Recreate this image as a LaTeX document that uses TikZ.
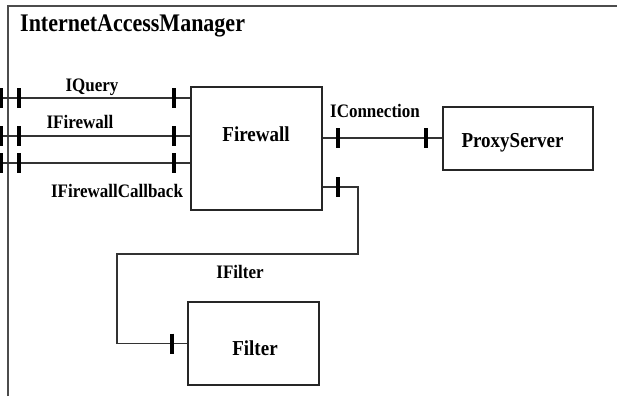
\documentclass[tikz,border=0pt]{standalone}
\usepackage{fontspec}
\setmainfont{Liberation Serif}[BoldFont={Liberation Serif Bold}]
\newcommand{\vst}[1]{\scalebox{1}[1.12]{#1}}
\begin{document}
\begin{tikzpicture}[x=1pt,y=-1pt,
  box/.style={draw=black!85,line width=1.8pt,minimum width=#1,inner sep=0pt},
  conn/.style={draw=black!80,line width=1.4pt},
  tickmark/.style={line width=3.2pt,black},
  lbl/.style={font=\fontsize{17}{17}\selectfont\bfseries,anchor=base,inner sep=0pt},
  boxname/.style={font=\fontsize{19}{19}\selectfont\bfseries,anchor=base,inner sep=0pt},
  outerframe/.style={draw=black!70,line width=1.6pt}]
\useasboundingbox (0,0) rectangle (617,396);
\fill[white] (0,0) rectangle (617,396);
% outer component frame
\coordinate (fbl) at (8,396);
\coordinate (ftl) at (8,6);
\coordinate (ftr) at (617,6);
\draw[outerframe] (fbl) -- (ftl) -- (ftr);
\node[font=\fontsize{22}{22}\selectfont\bfseries,anchor=base west,inner sep=0pt] (title) at (20,32) {\scalebox{1}[1.15]{InternetAccessManager}};
% boxes
\node[box=131pt,minimum height=123pt] (firewall) at (256.5,148.5) {};
\node[box=150pt,minimum height=63pt] (proxy) at (518,138.5) {};
\node[box=131pt,minimum height=83pt] (filter) at (253.5,343.5) {};
\node[boxname] (fwname) at (256,141) {\vst{Firewall}};
\node[boxname] (pxname) at (512.5,147) {\vst{ProxyServer}};
\node[boxname] (ftname) at (255,355) {\vst{Filter}};
% left interfaces
\coordinate (q0) at (0,98);
\coordinate (w0) at (0,136);
\coordinate (c0) at (0,163);
\draw[conn] (q0) -- (q0 -| firewall.west);
\draw[conn] (w0) -- (w0 -| firewall.west);
\draw[conn] (c0) -- (c0 -| firewall.west);
\foreach \yy in {98,136,163}{
  \foreach \xx in {1.5,19,174}{
    \draw[tickmark] (\xx,\yy-10) -- (\xx,\yy+10);
  }
}
\node[lbl] (lq) at (92,91) {\vst{IQuery}};
\node[lbl] (lw) at (80,128) {\vst{IFirewall}};
\node[lbl] (lc) at (117,197) {\vst{IFirewallCallback}};
% IConnection
\coordinate (ic) at (322,138);
\draw[conn] (ic -| firewall.east) -- (ic -| proxy.west);
\draw[tickmark] (338,128) -- (338,148);
\draw[tickmark] (426,128) -- (426,148);
\node[lbl] (lic) at (375,117) {\vst{IConnection}};
% IFilter
\coordinate (ff) at (322,187);
\coordinate (k1) at (358,254);
\coordinate (k2) at (117,254);
\draw[conn] (ff -| firewall.east) -| (k1) -- (k2) |- (filter.west);
\draw[tickmark] (338,177) -- (338,197);
\draw[tickmark] (172,333.5) -- (172,353.5);
\node[lbl] (lif) at (240,278) {\vst{IFilter}};
\end{tikzpicture}
\end{document}
